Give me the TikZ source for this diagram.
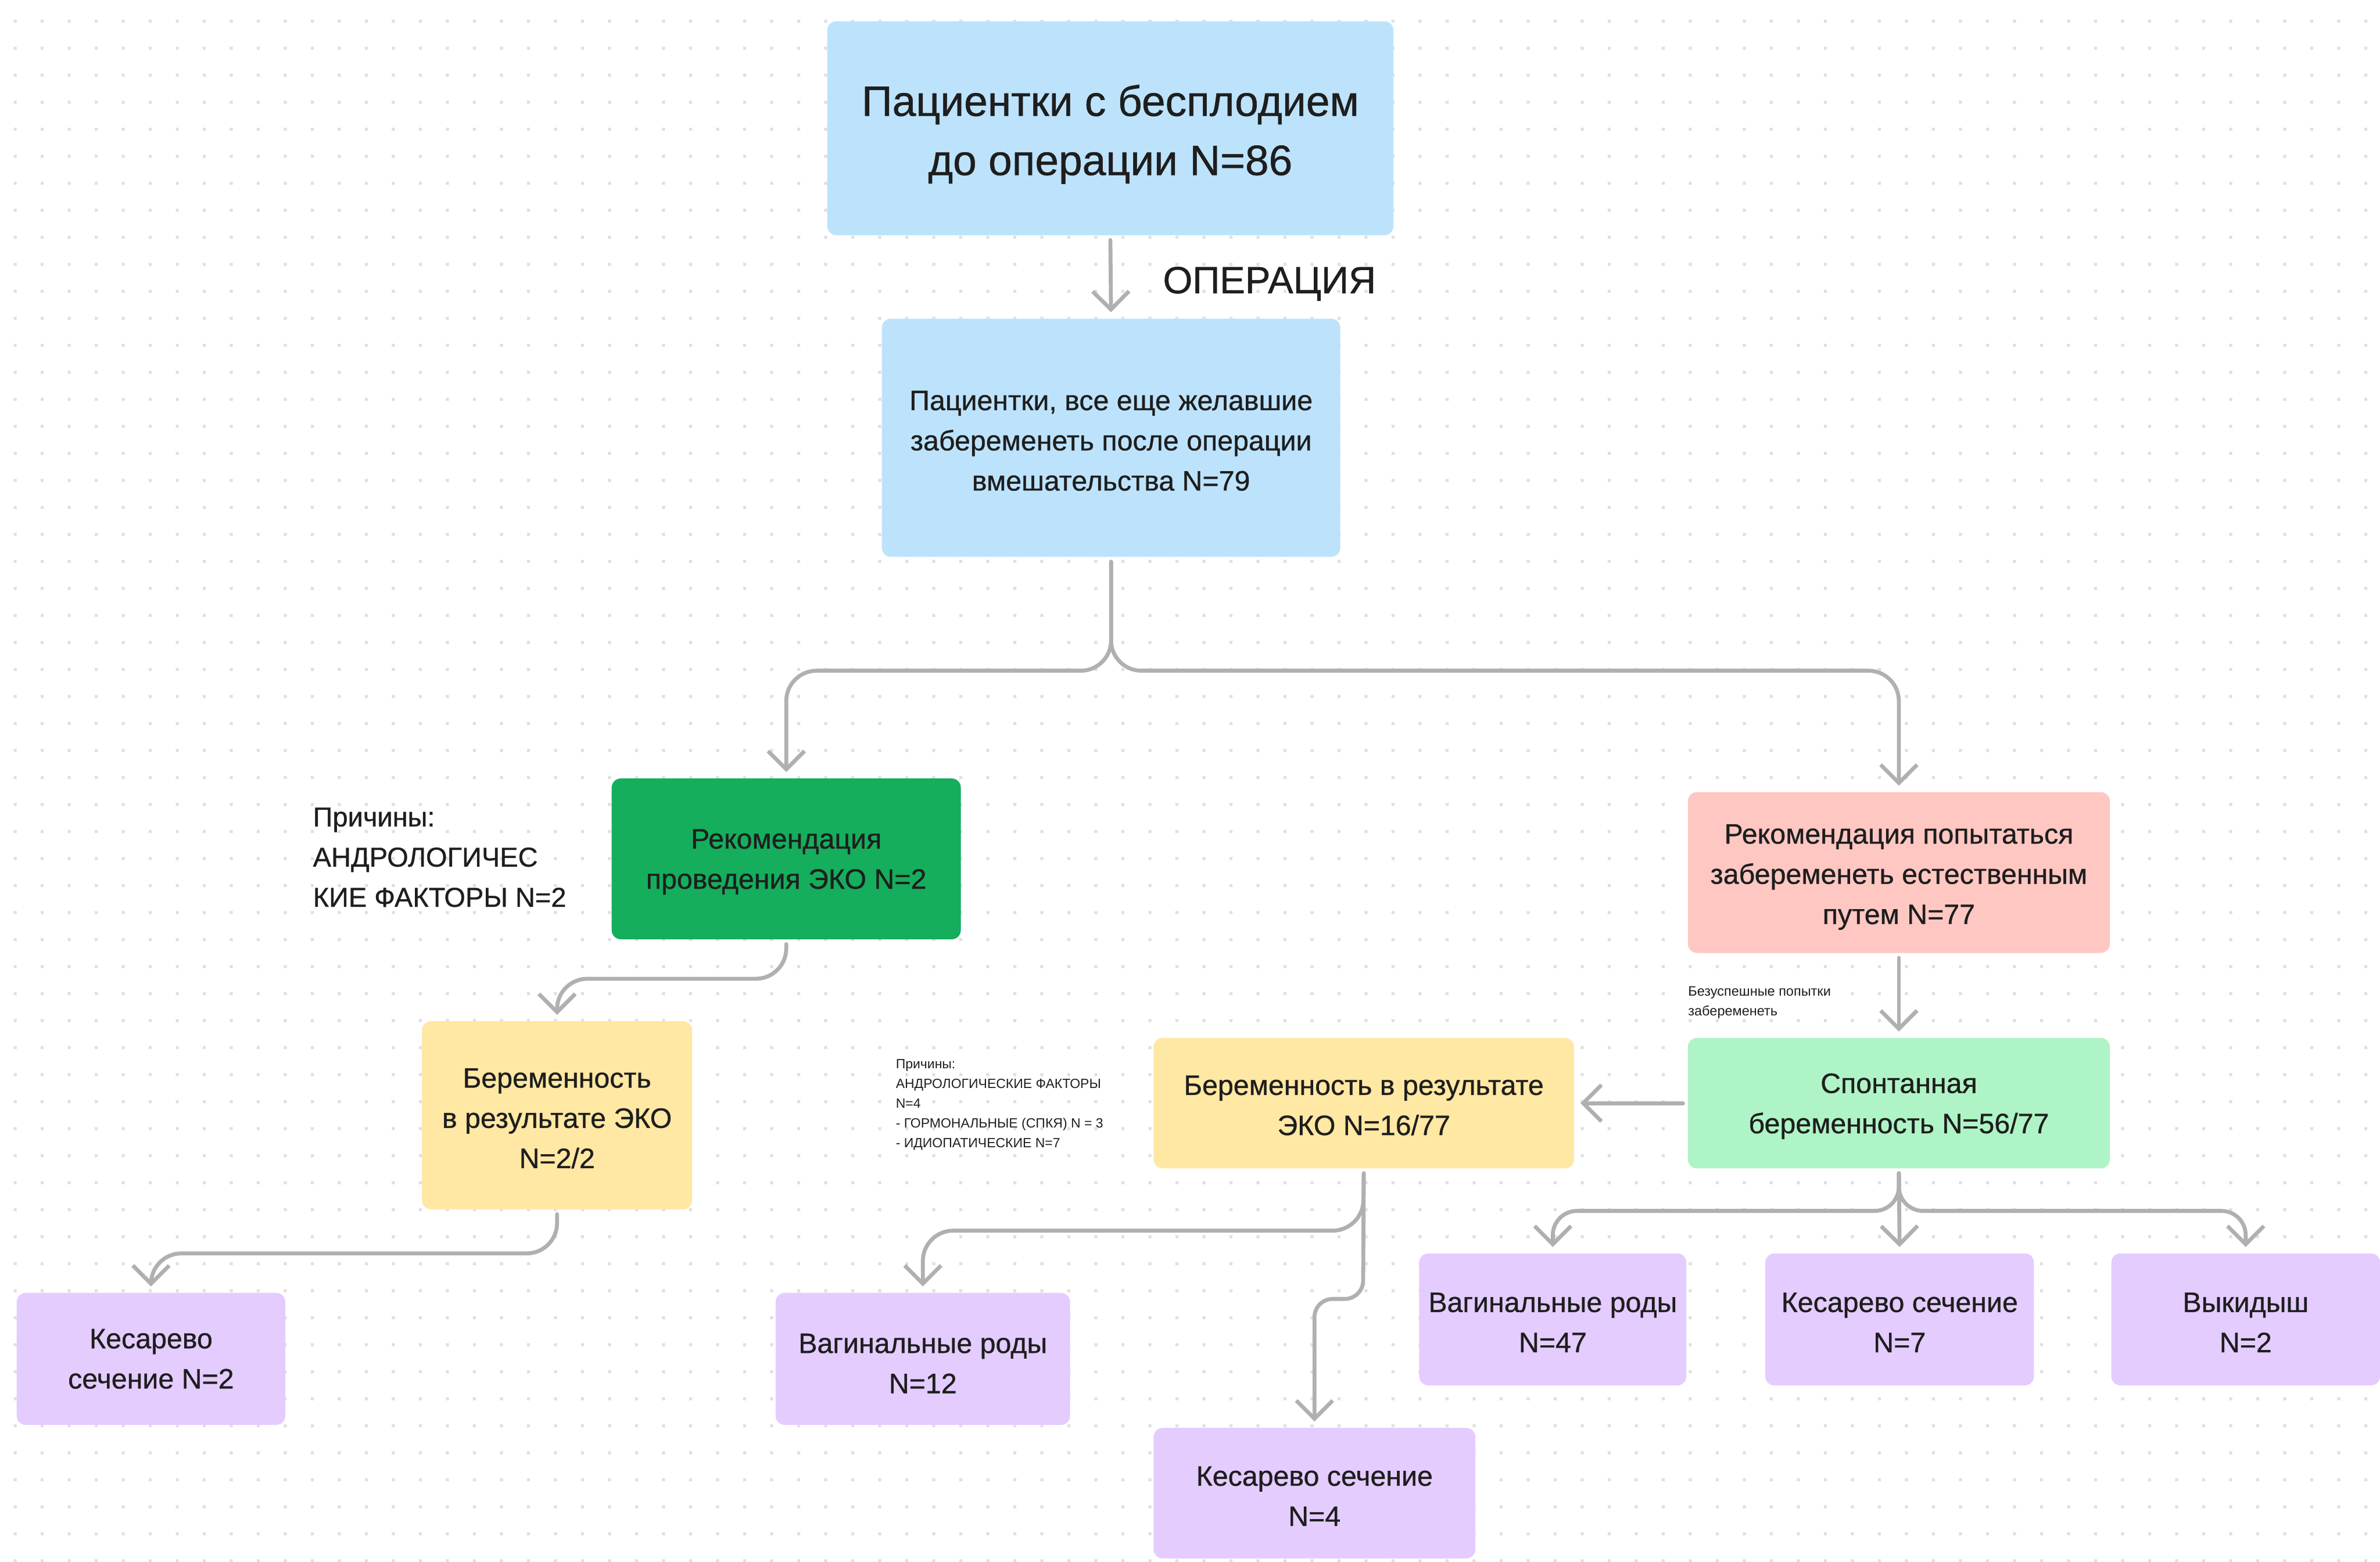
\documentclass[tikz,border=0pt]{standalone}
\usepackage{fontspec}
\setmainfont{Liberation Sans}[BoldFont=Liberation Sans, BoldFeatures={FakeBold=0.7}]
\usetikzlibrary{arrows.meta}
\definecolor{blueC}{HTML}{BDE3FC}
\definecolor{greenC}{HTML}{14AE5C}
\definecolor{pinkC}{HTML}{FFC7C2}
\definecolor{mintC}{HTML}{AFF4C6}
\definecolor{yellowC}{HTML}{FFE8A3}
\definecolor{purpC}{HTML}{E4CCFF}
\definecolor{arrowC}{HTML}{B0B0B0}
\definecolor{dotC}{HTML}{E0E0E0}
\definecolor{txtC}{HTML}{1E1E1E}
% #1 colour, #2 width, #3 height, #4 name, #5 centre, #6 text shift, #7 text
\newcommand\flowbox[7]{%
  \node[boxshape, fill=#1, minimum width=#2pt, minimum height=#3pt] (#4) at (#5) {};
  \node[boxtext] (#4-t) at ([yshift=#6pt]#4.center) {#7};}
\begin{document}
\begin{tikzpicture}[x=1pt,y=-1pt,
  boxshape/.style={rounded corners=6pt, inner sep=0pt, draw=none},
  boxtext/.style={inner sep=0pt, align=center, text=txtC,
    font=\fontsize{18.5pt}{26.5pt}\selectfont\bfseries},
  conn/.style={draw=arrowC, line width=2.6pt, line cap=round,
    -{Straight Barb[length=12pt,width=24pt]}, rounded corners=20pt,
    shorten >=4pt, shorten <=3pt},
  note/.style={inner sep=0pt, align=left, anchor=north west, text=txtC},
]
\useasboundingbox (0,0) rectangle (1568,1029);
\fill[white] (0,0) rectangle (1568,1029);
\foreach \j in {0,...,57} {
  \fill[dotC] \foreach \i in {0,...,87} { (9+17.8*\i,13+17.8*\j) rectangle ++(2,2) };
}

% nodes
\node[boxshape, fill=blueC, minimum width=373pt, minimum height=141pt] (top) at (731.5,84.5) {};
\node[boxtext, font=\fontsize{28pt}{39pt}\selectfont\bfseries] (top-t) at ([yshift=-4pt]top.center)
  {Пациентки с бесплодием\\до операции N=86};
\node[anchor=west, inner sep=0pt, text=txtC, font=\fontsize{25pt}{30pt}\selectfont\bfseries] (oplabel) at (766,187) {ОПЕРАЦИЯ};
\flowbox{blueC}{302}{157}{b2}{732,288.5}{-2}
  {Пациентки, все еще желавшие\\забеременеть после операции\\вмешательства N=79}
\flowbox{greenC}{230}{106}{green}{518,566}{-2}
  {Рекомендация\\проведения ЭКО N=2}
\node[note, font=\fontsize{18pt}{26.5pt}\selectfont\bfseries] (why1) at (206,532)
  {Причины:\\АНДРОЛОГИЧЕС\\КИЕ ФАКТОРЫ N=2};
\flowbox{pinkC}{278}{106}{pink}{1251,575}{-3}
  {Рекомендация попытаться\\забеременеть естественным\\путем N=77}
\node[note, font=\fontsize{9pt}{13pt}\selectfont] (fail) at (1112,650)
  {Безуспешные попытки\\забеременеть};
\flowbox{mintC}{278}{86}{mint}{1251,727}{-2}
  {Спонтанная\\беременность N=56/77}
\flowbox{yellowC}{277}{86}{y2}{898.5,727}{-1.5}
  {Беременность в результате\\ЭКО N=16/77}
\node[note, font=\fontsize{8.8pt}{13pt}\selectfont] (why2) at (590,698)
  {Причины:\\АНДРОЛОГИЧЕСКИЕ ФАКТОРЫ\\N=4\\- ГОРМОНАЛЬНЫЕ (СПКЯ) N = 3\\- ИДИОПАТИЧЕСКИЕ N=7};
\flowbox{yellowC}{178}{124}{y1}{367,735}{-2}
  {Беременность\\в результате ЭКО\\N=2/2}
\flowbox{purpC}{177}{87}{p1}{99.5,895.5}{0}
  {Кесарево\\сечение N=2}
\flowbox{purpC}{194}{87}{p2}{608,895.5}{-3}
  {Вагинальные роды\\N=12}
\flowbox{purpC}{212}{86}{p3}{866,984}{-2}
  {Кесарево сечение\\N=4}
\flowbox{purpC}{176}{87}{p4}{1023,869.5}{-2}
  {Вагинальные роды\\N=47}
\flowbox{purpC}{177}{87}{p5}{1251.5,869.5}{-2}
  {Кесарево сечение\\N=7}
\flowbox{purpC}{177}{87}{p6}{1479.5,869.5}{-2}
  {Выкидыш\\N=2}

% connectors
\draw[conn] (top.south) -- (b2.north);
\draw[conn] (b2.south) -- (732,442) -| (green.north);
\draw[conn] (b2.south) -- (732,442) -| (pink.north);
\draw[conn] (pink.south) -- (mint.north);
\draw[conn] (mint.west) -- (y2.east);
\draw[conn] (green.south) -- (518,645) -| (y1.north);
\draw[conn] (y1.south) -- (367,826) -| (p1.north);
\draw[conn] (y2.south) -- (898,811) -| (p2.north);
\draw[conn, rounded corners=12pt] (y2.south) -- (898,856) -| (p3.north);
\draw[conn, rounded corners=16pt] (mint.south) -- (1251,798) -| (p4.north);
\draw[conn] (mint.south) -- (p5.north);
\draw[conn, rounded corners=16pt] (mint.south) -- (1251,798) -| (p6.north);
\end{tikzpicture}
\end{document}
